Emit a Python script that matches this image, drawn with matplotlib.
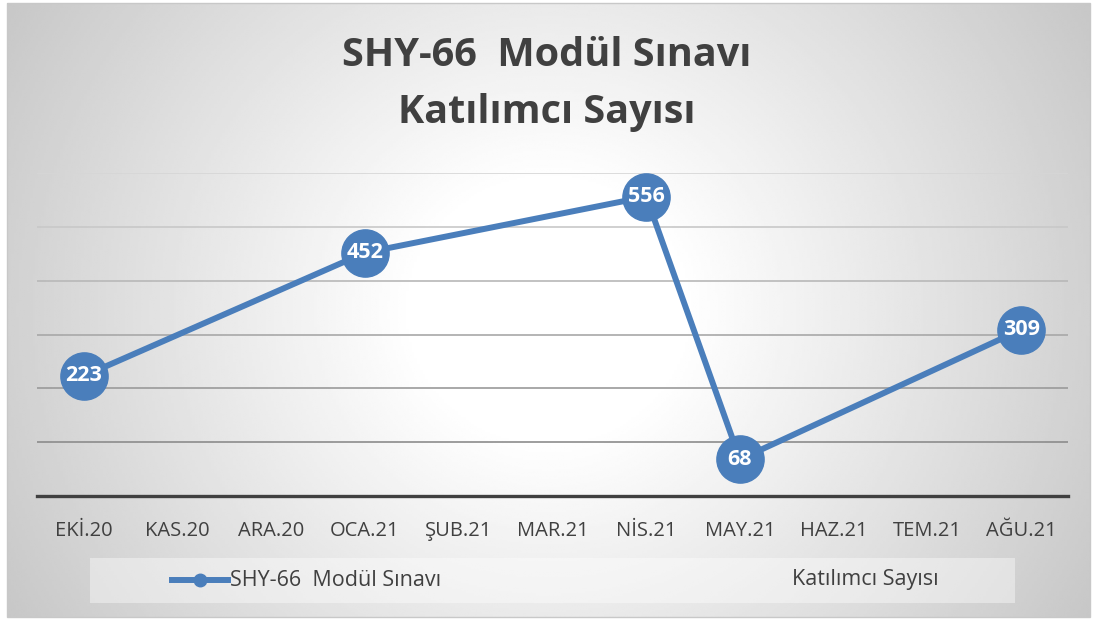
import numpy as np
import matplotlib.pyplot as plt
from matplotlib.patches import Rectangle
from matplotlib.lines import Line2D

plt.rcParams['font.family'] = ['Open Sans', 'DejaVu Sans']

# data (missing months are None, line connects available points)
months = ['EKİ.20', 'KAS.20', 'ARA.20', 'OCA.21', 'ŞUB.21', 'MAR.21',
          'NİS.21', 'MAY.21', 'HAZ.21', 'TEM.21', 'AĞU.21']
participants = [223, None, None, 452, None, None, 556, 68, None, None, 309]
series_name = 'SHY-66  Modül Sınavı'
title_lines = ['SHY-66  Modül Sınavı', 'Katılımcı Sayısı']

blue = '#4a7ebb'
dark = '#404040'

fig = plt.figure(figsize=(10.94, 6.21), dpi=100)
fig.patch.set_facecolor('white')

# radial gradient background for the chart area
bx0, by0, bx1, by1 = 7 / 1094, 4 / 621, 1090 / 1094, 618 / 621
bg = fig.add_axes([bx0, by0, bx1 - bx0, by1 - by0], zorder=0)
xx, yy = np.meshgrid(np.linspace(-1, 1, 400), np.linspace(-1, 1, 300))
r = np.sqrt(xx ** 2 + (0.6 * yy) ** 2)
shade = 1.0 - 0.22 * np.clip((r - 0.25) / 0.92, 0, 1)
bg.imshow(shade, cmap='gray', vmin=0, vmax=1, aspect='auto', origin='lower',
          extent=[0, 1, 0, 1], interpolation='bilinear')
bg.set_axis_off()
fig.patches.append(Rectangle((bx0, by0), bx1 - bx0, by1 - by0,
                             transform=fig.transFigure, fill=False,
                             edgecolor='#c8c8c8', linewidth=1, zorder=1))

# legend band
fig.patches.append(Rectangle((90 / 1094, 1 - 603 / 621), 925 / 1094, 45 / 621,
                             transform=fig.transFigure, facecolor='white',
                             alpha=0.4, edgecolor='none', zorder=1))

ax = fig.add_axes([37 / 1094, 1 - 496 / 621, 1031 / 1094, 323 / 621], zorder=2)
ax.patch.set_alpha(0)

x = [i for i, v in enumerate(participants) if v is not None]
y = [v for v in participants if v is not None]
ax.plot(x, y, color=blue, linewidth=4.3, marker='o', markersize=34,
        markerfacecolor=blue, markeredgecolor=blue, zorder=3, clip_on=False)
for xi, yi in zip(x, y):
    ax.text(xi, yi, str(yi), ha='center', va='center', color='white',
            fontsize=15.5, fontweight='bold', zorder=4)

ax.set_xlim(-0.5, len(months) - 0.5)
ax.set_ylim(0, 600)
ax.set_yticks(range(100, 601, 100))
ax.yaxis.grid(True, linewidth=1.2)
grid_cols = ['#8c8c8c', '#9a9a9a', '#a8a8a8', '#b8b8b8', '#c8c8c8', '#d6d6d6']
for gl, c in zip(ax.get_ygridlines(), grid_cols):
    gl.set_color(c)
ax.set_axisbelow(True)
ax.tick_params(axis='y', left=False, labelleft=False)
ax.set_xticks(range(len(months)))
ax.set_xticklabels(months, fontsize=14.5, color=dark)
ax.tick_params(axis='x', length=0, pad=18)
for s in ['top', 'right', 'left']:
    ax.spines[s].set_visible(False)
ax.spines['bottom'].set_color(dark)
ax.spines['bottom'].set_linewidth(2.4)

for yp, line in zip([55, 112], title_lines):
    fig.text(0.5, 1 - yp / 621, line, ha='center', va='center', fontsize=28.5,
             fontweight='bold', color=dark)

# legend
fig.add_artist(Line2D([172 / 1094, 228 / 1094], [1 - 580 / 621] * 2,
                      transform=fig.transFigure, color=blue, linewidth=4.3))
fig.add_artist(Line2D([200 / 1094], [1 - 580 / 621], transform=fig.transFigure,
                      marker='o', markersize=9, color=blue))
fig.text(230 / 1094, 1 - 580 / 621, series_name, ha='left', va='center',
         fontsize=15.5, color=dark)
fig.text(792 / 1094, 1 - 580 / 621, 'Katılımcı Sayısı', ha='left', va='center',
         fontsize=15.5, color=dark)

fig.savefig('out.png', dpi=100)
